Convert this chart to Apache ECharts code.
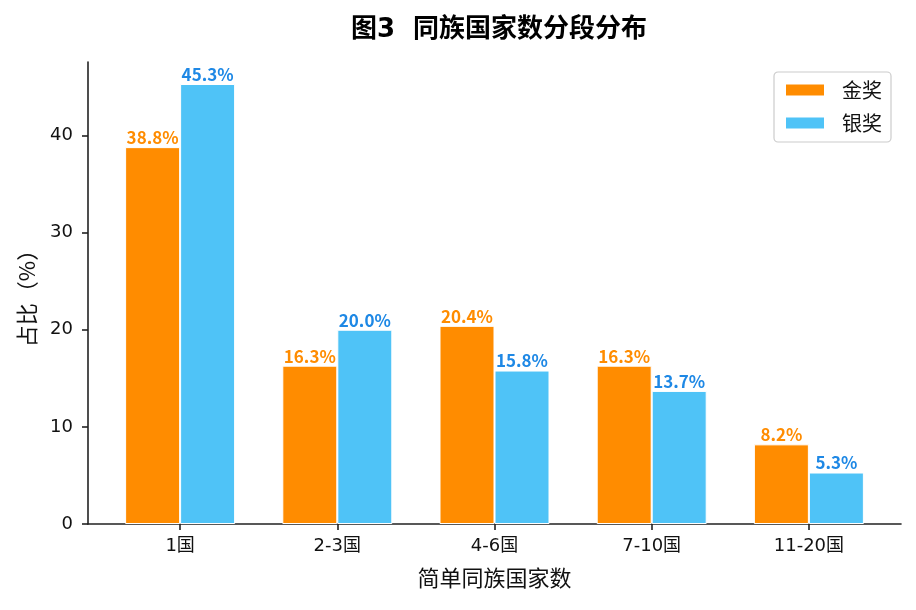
<!DOCTYPE html>
<html>
<head>
<meta charset="utf-8">
<script src="https://cdn.jsdelivr.net/npm/echarts@6/dist/echarts.min.js"></script>
<style>
  html, body { margin: 0; padding: 0; background: #fff; }
  #main { width: 916px; height: 610px; }
</style>
</head>
<body>
<div id="main"></div>
<script>
// 数据
const categories = ['1国', '2-3国', '4-6国', '7-10国', '11-20国'];
const gold = [38.8, 16.3, 20.4, 16.3, 8.2];
const silver = [45.3, 20.0, 15.8, 13.7, 5.3];
const yTicks = [0, 10, 20, 30, 40];

const CJK = '"Noto Sans CJK SC", "Noto Sans", sans-serif';
const MIXED = '"DejaVu Sans", "Noto Sans CJK SC", sans-serif';
const ORANGE = '#FF8C00';
const BLUE = '#4FC3F7';
const BLUE_TEXT = '#1E88E5';
const AXIS = '#222';

const chart = echarts.init(document.getElementById('main'));

const xIdx = categories.map((c, i) => i);

function barSeries(name, values, color, labelColor) {
    return {
        name: name,
        type: 'bar',
        barWidth: 55,
        barGap: '0%',
        data: values.map((v, i) => [i, v]),
        itemStyle: { color: color, borderColor: '#fff', borderWidth: 1 },
        label: {
            show: true,
            position: 'top',
            distance: 1,
            color: labelColor,
            fontFamily: CJK,
            fontWeight: 'bold',
            fontSize: 17,
            formatter: p => p.value[1].toFixed(1) + '%'
        }
    };
}

chart.setOption({
    animation: false,
    textStyle: { fontFamily: CJK },
    title: {
        text: '图3  同族国家数分段分布',
        left: 494,
        textAlign: 'center',
        top: 12,
        textStyle: { fontFamily: MIXED, fontSize: 26, fontWeight: 'bold', color: '#000' }
    },
    legend: {
        orient: 'vertical',
        right: 25,
        top: 72,
        padding: [8, 9, 9, 10],
        itemWidth: 40,
        itemHeight: 13,
        itemGap: 13,
        borderColor: '#ccc',
        borderWidth: 1.2,
        borderRadius: 4,
        textStyle: { fontFamily: CJK, fontSize: 20, color: '#111', padding: [0, 0, 0, 12] },
        data: [
            { name: '金奖', icon: 'rect' },
            { name: '银奖', icon: 'rect' }
        ]
    },
    grid: { left: 88, right: 15, top: 62, bottom: 86 },
    xAxis: {
        type: 'value',
        min: -0.586,
        max: 4.586,
        name: '简单同族国家数',
        nameLocation: 'middle',
        nameGap: 43,
        nameTextStyle: { fontFamily: CJK, fontSize: 22, color: '#111' },
        axisLine: { show: true, onZero: false, lineStyle: { color: AXIS, width: 1.6 } },
        axisTick: { show: true, customValues: xIdx, length: 6, lineStyle: { color: AXIS, width: 1.6 } },
        axisLabel: {
            customValues: xIdx,
            margin: 13,
            fontFamily: MIXED, fontSize: 18, color: '#111',
            formatter: v => categories[Math.round(v)]
        },
        splitLine: { show: false }
    },
    yAxis: {
        type: 'value',
        min: 0,
        max: 47.565,
        name: '占比（%）',
        nameLocation: 'middle',
        nameGap: 50,
        nameTextStyle: { fontFamily: CJK, fontSize: 22, color: '#111' },
        axisLine: { show: true, onZero: false, lineStyle: { color: AXIS, width: 1.6 } },
        axisTick: { show: true, customValues: yTicks, length: 6, lineStyle: { color: AXIS, width: 1.6 } },
        axisLabel: { customValues: yTicks, margin: 15, fontFamily: MIXED, fontSize: 18, color: '#111' },
        splitLine: { show: false }
    },
    series: [
        barSeries('金奖', gold, ORANGE, ORANGE),
        barSeries('银奖', silver, BLUE, BLUE_TEXT)
    ]
});
</script>
</body>
</html>
